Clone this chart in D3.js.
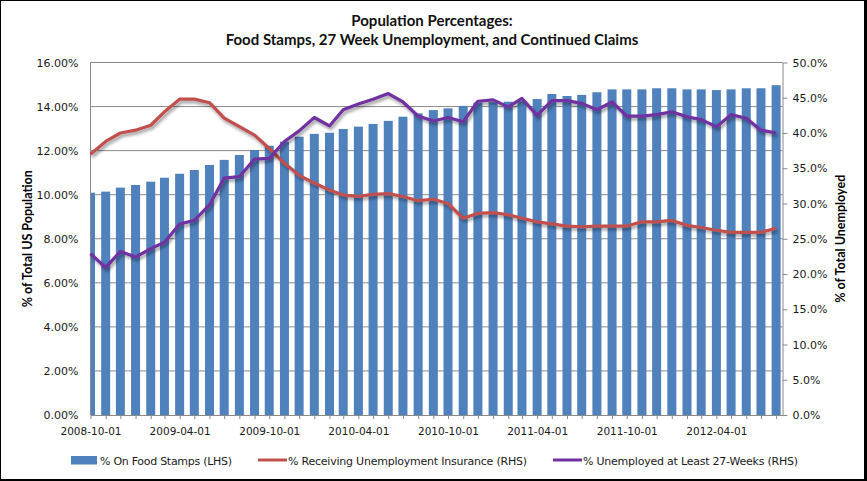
<!DOCTYPE html>
<html>
<head>
<meta charset="utf-8">
<title>Population Percentages</title>
<script src="https://unpkg.com/d3@7.8.2/dist/d3.min.js"></script>
<style>
  body { margin: 0; background: #fff; }
</style>
</head>
<body>
<div id="chart"></div>
<script>
// monthly observations, 2008-10 .. 2012-08
const months = [
  "2008-10-01", "2008-11-01", "2008-12-01",
  "2009-01-01", "2009-02-01", "2009-03-01", "2009-04-01", "2009-05-01", "2009-06-01",
  "2009-07-01", "2009-08-01", "2009-09-01", "2009-10-01", "2009-11-01", "2009-12-01",
  "2010-01-01", "2010-02-01", "2010-03-01", "2010-04-01", "2010-05-01", "2010-06-01",
  "2010-07-01", "2010-08-01", "2010-09-01", "2010-10-01", "2010-11-01", "2010-12-01",
  "2011-01-01", "2011-02-01", "2011-03-01", "2011-04-01", "2011-05-01", "2011-06-01",
  "2011-07-01", "2011-08-01", "2011-09-01", "2011-10-01", "2011-11-01", "2011-12-01",
  "2012-01-01", "2012-02-01", "2012-03-01", "2012-04-01", "2012-05-01", "2012-06-01",
  "2012-07-01", "2012-08-01"
];

// % on food stamps (left axis)
const foodStamps = [
  10.09, 10.14, 10.32, 10.44, 10.59, 10.77, 10.95, 11.12, 11.35, 11.58, 11.80, 12.03,
  12.22, 12.41, 12.63, 12.76, 12.81, 12.98, 13.09, 13.21, 13.35, 13.54, 13.69, 13.84,
  13.92, 14.03, 14.18, 14.20, 14.22, 14.25, 14.34, 14.57, 14.48, 14.53, 14.65, 14.78,
  14.78, 14.78, 14.83, 14.83, 14.78, 14.78, 14.75, 14.78, 14.83, 14.83, 14.97
];

// % receiving unemployment insurance (right axis)
const receivingUI = [
  37.0, 38.8, 40.0, 40.4, 41.1, 43.0, 44.8, 44.8, 44.3, 42.1, 40.9, 39.7,
  37.8, 35.7, 34.0, 32.9, 31.9, 31.2, 31.0, 31.3, 31.4, 31.0, 30.4, 30.6,
  30.0, 27.9, 28.6, 28.7, 28.4, 27.9, 27.4, 27.1, 26.8, 26.7, 26.8, 26.8,
  26.8, 27.4, 27.4, 27.6, 26.9, 26.6, 26.2, 25.9, 25.9, 25.9, 26.5
];

// % unemployed at least 27 weeks (right axis)
const unemployed27 = [
  22.9, 20.9, 23.2, 22.4, 23.6, 24.5, 27.1, 27.6, 29.8, 33.6, 33.8, 36.3,
  36.4, 38.8, 40.3, 42.2, 41.0, 43.3, 44.1, 44.8, 45.6, 44.4, 42.4, 41.7,
  42.2, 41.6, 44.5, 44.7, 43.7, 44.9, 42.5, 44.6, 44.6, 44.2, 43.3, 44.4,
  42.4, 42.4, 42.6, 43.0, 42.3, 41.9, 40.9, 42.6, 42.1, 40.4, 40.0
];

const leftTicks = [0, 2, 4, 6, 8, 10, 12, 14, 16];
const rightTicks = [0, 5, 10, 15, 20, 25, 30, 35, 40, 45, 50];
const xLabelMonths = [3, 9]; // April and October get a label

const W = 867, H = 481;
const plot = { left: 90.5, right: 782.5, top: 62.5, bottom: 415 };
const parse = d3.timeParse("%Y-%m-%d");
const fmt = d3.timeFormat("%Y-%m-%d");
const dates = months.map(parse);

const svg = d3.select("#chart").append("svg")
  .attr("width", W)
  .attr("height", H)
  .style("display", "block");

// black frame with shadow edge
svg.append("rect").attr("width", W).attr("height", H).attr("fill", "#000");
svg.append("rect").attr("x", 1).attr("y", 1).attr("width", W - 4).attr("height", H - 3).attr("fill", "#fff");

const defs = svg.append("defs");
defs.append("clipPath").attr("id", "plotclip")
  .append("rect")
  .attr("x", plot.left).attr("y", plot.top - 10)
  .attr("width", plot.right - plot.left).attr("height", plot.bottom - plot.top + 10);
const shadow = defs.append("filter").attr("id", "shadow")
  .attr("x", "-5%").attr("y", "-5%").attr("width", "110%").attr("height", "120%");
shadow.append("feDropShadow")
  .attr("dx", 1.5).attr("dy", 2.5).attr("stdDeviation", 1.4)
  .attr("flood-color", "#000").attr("flood-opacity", 0.4);

const x = d3.scaleTime()
  .domain([parse("2008-10-01"), parse("2012-08-14")])
  .range([plot.left, plot.right]);
const yL = d3.scaleLinear().domain([0, 16]).range([plot.bottom, plot.top]);
const yR = d3.scaleLinear().domain([0, 50]).range([plot.bottom, plot.top]);

// gridlines
svg.append("g")
  .selectAll("line")
  .data(leftTicks.filter(d => d > 0))
  .enter()
  .append("line")
  .attr("x1", plot.left).attr("x2", plot.right)
  .attr("y1", d => yL(d)).attr("y2", d => yL(d))
  .attr("stroke", "#8a8a8a")
  .attr("stroke-width", 1);

// bars
svg.append("g")
  .attr("clip-path", "url(#plotclip)")
  .selectAll("rect")
  .data(foodStamps)
  .enter()
  .append("rect")
  .attr("x", (d, i) => x(dates[i]) - 4.5)
  .attr("width", 9)
  .attr("y", d => yL(d))
  .attr("height", d => plot.bottom - yL(d))
  .attr("fill", "#4F81BD");

// axes
function styleAxis(size) {
  return g => {
    g.selectAll("path, line").attr("stroke", "#8a8a8a");
    g.selectAll("text")
      .attr("font-family", "DejaVu Sans, Verdana, sans-serif")
      .attr("font-size", size)
      .attr("fill", "#1a1a1a");
  };
}

svg.append("g")
  .attr("transform", `translate(${plot.left},0)`)
  .call(d3.axisLeft(yL).tickValues(leftTicks).tickFormat(d => d.toFixed(2) + "%")
    .tickSize(0).tickPadding(12))
  .call(styleAxis(11))
  .call(g => g.select(".domain").attr("d", `M0,${plot.top}V${plot.bottom}`));

svg.append("g")
  .attr("transform", `translate(${plot.right},0)`)
  .call(d3.axisRight(yR).tickValues(rightTicks).tickFormat(d => d.toFixed(1) + "%")
    .tickSize(5).tickSizeOuter(0).tickPadding(5))
  .call(styleAxis(11));

svg.append("g")
  .attr("transform", `translate(0,${plot.bottom})`)
  .call(d3.axisBottom(x).ticks(d3.timeMonth.every(1))
    .tickFormat(d => xLabelMonths.includes(d.getMonth()) ? fmt(d) : "")
    .tickSize(4).tickSizeOuter(0).tickPadding(9))
  .call(styleAxis(10.5));

// lines
const line = d3.line()
  .x((d, i) => x(dates[i]))
  .y(d => yR(d));

svg.append("path")
  .datum(receivingUI)
  .attr("d", line)
  .attr("fill", "none")
  .attr("stroke", "#C0504D")
  .attr("stroke-width", 3.2)
  .attr("stroke-linejoin", "round")
  .attr("filter", "url(#shadow)");

svg.append("path")
  .datum(unemployed27)
  .attr("d", line)
  .attr("fill", "none")
  .attr("stroke", "#7030A0")
  .attr("stroke-width", 3.2)
  .attr("stroke-linejoin", "round")
  .attr("filter", "url(#shadow)");

// title
const title = svg.append("text")
  .attr("text-anchor", "middle")
  .attr("font-family", "Lato, Calibri, sans-serif")
  .attr("font-weight", "bold")
  .attr("font-size", 15)
  .attr("fill", "#111");
title.append("tspan").attr("x", 432).attr("y", 26).text("Population Percentages:");
title.append("tspan").attr("x", 432).attr("y", 45).text("Food Stamps, 27 Week Unemployment, and Continued Claims");

// axis titles
svg.append("text")
  .attr("transform", `translate(32,${(plot.top + plot.bottom) / 2}) rotate(-90)`)
  .attr("text-anchor", "middle")
  .attr("font-family", "Lato, Calibri, sans-serif")
  .attr("font-weight", "bold")
  .attr("font-size", 12.5)
  .text("% of Total US Population");

svg.append("text")
  .attr("transform", `translate(845,${(plot.top + plot.bottom) / 2}) rotate(-90)`)
  .attr("text-anchor", "middle")
  .attr("font-family", "Lato, Calibri, sans-serif")
  .attr("font-weight", "bold")
  .attr("font-size", 12.5)
  .text("% of Total Unemployed");

// legend
const legend = svg.append("g")
  .attr("font-family", "DejaVu Sans, Verdana, sans-serif")
  .attr("font-size", 11)
  .attr("fill", "#1a1a1a");

legend.append("rect").attr("x", 71).attr("y", 456).attr("width", 26).attr("height", 8.5).attr("fill", "#4F81BD");
legend.append("text").attr("x", 100).attr("y", 464.5)
  .attr("textLength", 132).attr("lengthAdjust", "spacing")
  .text("% On Food Stamps (LHS)");

legend.append("line").attr("x1", 258).attr("x2", 287).attr("y1", 460).attr("y2", 460)
  .attr("stroke", "#C0504D").attr("stroke-width", 3);
legend.append("text").attr("x", 288).attr("y", 464.5)
  .attr("textLength", 239).attr("lengthAdjust", "spacing")
  .text("% Receiving Unemployment Insurance (RHS)");

legend.append("line").attr("x1", 553).attr("x2", 582).attr("y1", 460).attr("y2", 460)
  .attr("stroke", "#7030A0").attr("stroke-width", 3);
legend.append("text").attr("x", 583).attr("y", 464.5)
  .attr("textLength", 215).attr("lengthAdjust", "spacing")
  .text("% Unemployed at Least 27-Weeks (RHS)");
</script>
</body>
</html>
